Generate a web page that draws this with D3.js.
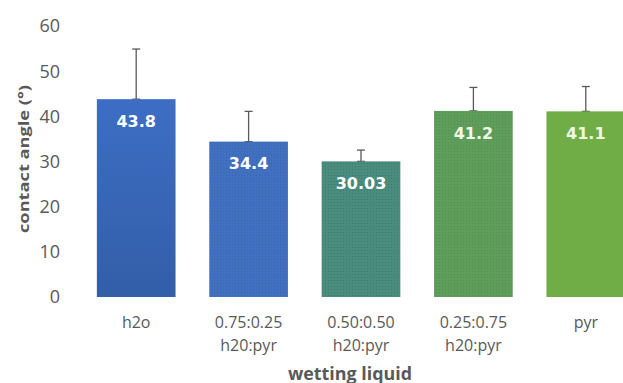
<!DOCTYPE html>
<html><head><meta charset="utf-8">
<script src="https://cdn.jsdelivr.net/npm/d3@7"></script>
<style>body{margin:0;background:#fff}svg{display:block}</style>
</head><body><svg id="c" width="623" height="383"></svg>
<script>
const categories = [["h2o"], ["0.75:0.25","h20:pyr"], ["0.50:0.50","h20:pyr"], ["0.25:0.75","h20:pyr"], ["pyr"]];
const values = [43.8, 34.4, 30.03, 41.2, 41.1];
const labels = ["43.8", "34.4", "30.03", "41.2", "41.1"];
const errPlus = [11.1, 6.7, 2.5, 5.2, 5.5];
const yTicks = [0, 10, 20, 30, 40, 50, 60];
const colors = ["#3a67b6", "#4270c0", "#4a8c7e", "#5e9e5a", "#70ad47"];
const dotColors = [null, "#2f5a9e", "#336b5e", "#4a8246", null];
const labelColors = ["#ffffff", "#ffffff", "#ffffff", "#f2f8e6", "#f2f8e6"];

const svg = d3.select("#c");
const y = d3.scaleLinear().domain([0, 60]).range([297, 26]);
const x = d3.scaleBand().domain(d3.range(values.length)).range([80, 642]).paddingInner(0.3).paddingOuter(0.15);

const defs = svg.append("defs");
const grad = defs.append("linearGradient").attr("id","g0").attr("x1",0).attr("y1",0).attr("x2",0).attr("y2",1);
grad.append("stop").attr("offset","0%").attr("stop-color","#3d6ec4");
grad.append("stop").attr("offset","100%").attr("stop-color","#335ea8");
values.forEach((v,i)=>{
  if(!dotColors[i]) return;
  const p = defs.append("pattern").attr("id","p"+i).attr("width",3).attr("height",3).attr("patternUnits","userSpaceOnUse");
  p.append("rect").attr("width",3).attr("height",3).attr("fill",colors[i]);
  p.append("rect").attr("x",1).attr("y",1).attr("width",1).attr("height",1).attr("fill",dotColors[i]).attr("opacity",0.55);
});

// y axis tick labels
svg.append("g").selectAll("text").data(yTicks).join("text")
  .attr("x", 60).attr("y", d=>y(d)).attr("dy","0.36em").attr("text-anchor","end")
  .attr("font-family","'Open Sans', sans-serif").attr("font-size",18).attr("fill","#595959")
  .text(d=>d);

// y title
svg.append("text").attr("transform","translate(24,159) rotate(-90)").attr("text-anchor","middle").attr("dy","0.35em")
  .attr("font-family","'Open Sans', sans-serif").attr("font-weight","bold").attr("font-size",15).attr("fill","#595959")
  .attr("textLength",148).attr("lengthAdjust","spacingAndGlyphs")
  .text("contact angle (°)");

// error bars (plus only)
const eg = svg.append("g").attr("stroke","#595959").attr("stroke-width",1.3);
values.forEach((v,i)=>{
  const cx = x(i)+x.bandwidth()/2;
  eg.append("line").attr("x1",cx).attr("x2",cx).attr("y1",y(v)).attr("y2",y(v+errPlus[i]));
  eg.append("line").attr("x1",cx-4).attr("x2",cx+4).attr("y1",y(v+errPlus[i])).attr("y2",y(v+errPlus[i]));
  eg.append("line").attr("x1",cx-4).attr("x2",cx+4).attr("y1",y(v)).attr("y2",y(v));
});

// bars
svg.append("g").selectAll("rect").data(values).join("rect")
  .attr("x",(d,i)=>x(i)).attr("width",x.bandwidth())
  .attr("y",d=>y(d)).attr("height",d=>y(0)-y(d))
  .attr("fill",(d,i)=> i===0 ? "url(#g0)" : (dotColors[i] ? `url(#p${i})` : colors[i]));

// value labels
svg.append("g").selectAll("text").data(values).join("text")
  .attr("x",(d,i)=>x(i)+x.bandwidth()/2).attr("y",d=>y(d)+22).attr("dy","0.36em")
  .attr("text-anchor","middle").attr("font-family","'DejaVu Sans', sans-serif").attr("font-weight","bold")
  .attr("font-size",16).attr("fill",(d,i)=>labelColors[i])
  .text((d,i)=>labels[i]);

// x labels
const xl = svg.append("g");
categories.forEach((lines,i)=>{
  lines.forEach((t,j)=>{
    xl.append("text").attr("x",x(i)+x.bandwidth()/2).attr("y",322+j*23).attr("dy","0.36em")
      .attr("text-anchor","middle").attr("font-family","'Open Sans', sans-serif").attr("font-size",16).attr("fill","#595959")
      .text(t);
  });
});

// x title
svg.append("text").attr("x",350).attr("y",374).attr("dy","0.35em").attr("text-anchor","middle")
  .attr("font-family","'Open Sans', sans-serif").attr("font-weight","bold").attr("font-size",17).attr("fill","#595959")
  .attr("textLength",124).attr("lengthAdjust","spacingAndGlyphs")
  .text("wetting liquid");
</script></body></html>
